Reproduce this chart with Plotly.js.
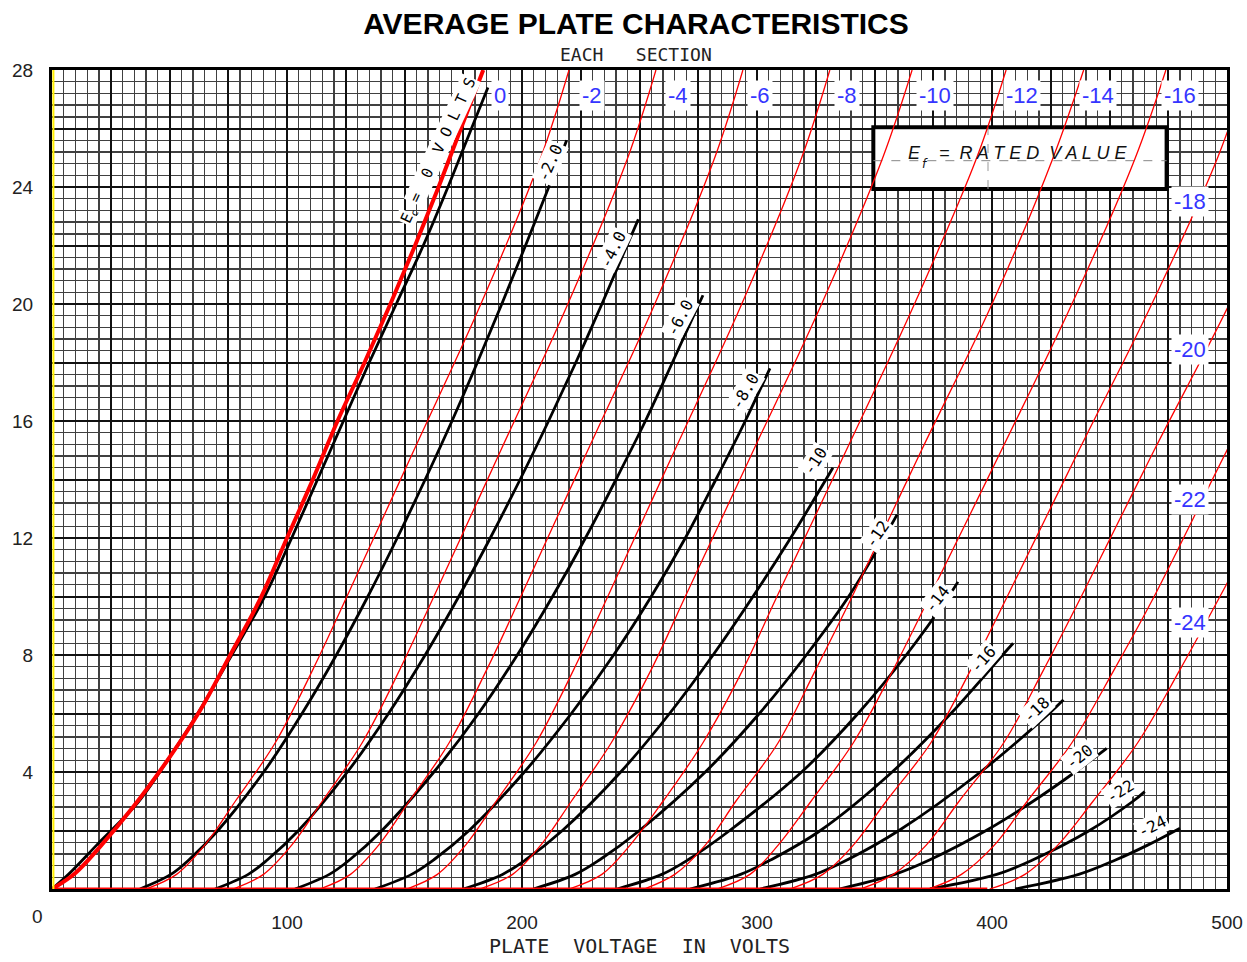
<!DOCTYPE html>
<html>
<head>
<meta charset="utf-8">
<script src="https://cdn.plot.ly/plotly-3.0.1.min.js"></script>
<style>
html,body{margin:0;padding:0;background:#fff;}
#chart{width:1247px;height:962px;}
</style>
</head>
<body>
<div id="chart"></div>
<script>
// ---------- tick labels ----------
const xTickVals = [100, 200, 300, 400, 500];
const xTickText = ['100', '200', '300', '400', '500'];
const yTickVals = [4, 8, 12, 16, 20, 24, 28];
const yTickText = ['4', '8', '12', '16', '20', '24', '28'];

// ---------- black (published) curves: plate volts / plate mA ----------
const blackV_0   = [0, 7, 19, 37, 50, 62, 76.5, 90.5, 102, 113, 124, 135, 146.5, 158, 168.5, 178.5, 185.5];
const blackI_0   = [0, 0.5, 1.5, 3, 4.5, 6, 8, 10, 12, 14, 16, 18, 20, 22, 24, 26, 27.4];
const blackV_m2  = [37.4, 50.6, 58.3, 70.6, 90.1, 106.4, 121, 134.4, 146.9, 158.8, 170.2, 181, 191.4, 201.5, 211.4, 219];
const blackI_m2  = [0, 0.5, 1, 2, 4, 6, 8, 10, 12, 14, 16, 18, 20, 22, 24, 25.6];
const blackV_m4  = [69.4, 83.5, 91.7, 104.9, 125.7, 143.2, 158.8, 173.1, 186.5, 199.2, 211.3, 222.9, 234, 249.5];
const blackI_m4  = [0, 0.5, 1, 2, 4, 6, 8, 10, 12, 14, 16, 18, 20, 22.9];
const blackV_m6  = [103.4, 118, 126.7, 140.4, 162.5, 181.5, 198, 213, 227, 240, 252.5, 264, 277];
const blackI_m6  = [0, 0.5, 1, 2, 4, 6, 8, 10, 12, 14, 16, 18, 20.3];
const blackV_m8  = [137.4, 153, 162.5, 177.5, 201, 221, 239, 255, 269.5, 282.5, 295, 305.5];
const blackI_m8  = [0, 0.5, 1, 2, 4, 6, 8, 10, 12, 14, 16, 17.8];
const blackV_m10 = [175, 191.7, 201.6, 217.2, 242, 262.8, 281.3, 298.3, 314.3, 332.3];
const blackI_m10 = [0, 0.5, 1, 2, 4, 6, 8, 10, 12, 14.4];
const blackV_m12 = [204.8, 222.6, 233.1, 250, 278, 301, 321, 339, 354, 359.6];
const blackI_m12 = [0, 0.5, 1, 2, 4, 6, 8, 10, 12, 12.8];
const blackV_m14 = [240.4, 259.5, 270.7, 288.4, 319, 343, 363.5, 381.5, 385.5];
const blackI_m14 = [0, 0.5, 1, 2, 4, 6, 8, 10, 10.5];
const blackV_m16 = [271.5, 293, 306, 327, 357.5, 382.5, 404.5, 409];
const blackI_m16 = [0, 0.5, 1, 2, 4, 6, 8, 8.4];
const blackV_m18 = [301.3, 324.8, 338.5, 360.4, 395.1, 424.3, 430.4];
const blackI_m18 = [0, 0.5, 1, 2, 4, 6, 6.47];
const blackV_m20 = [335, 358.6, 373.6, 397.5, 417.5, 435.4, 448.8];
const blackI_m20 = [0, 0.5, 1, 2, 3, 4, 4.81];
const blackV_m22 = [373.6, 402, 417.5, 441.5, 460, 465];
const blackI_m22 = [0, 0.5, 1, 2, 3, 3.33];
const blackV_m24 = [409.8, 436.9, 452.8, 466.2, 480];
const blackI_m24 = [0, 0.5, 1, 1.5, 2.08];
const blackLabels = ['-2.0','-4.0','-6.0','-8.0','-10','-12','-14','-16','-18','-20','-22','-24'];

// ---------- red (model) curves ----------
const redV_0   = [0, 10, 20.5, 34.5, 50, 63, 75.5, 88.5, 100, 111, 121.5, 133, 144, 154.5, 164.5, 174, 183.5];
const redI_0   = [0, 0.55, 1.45, 2.8, 4.5, 6.1, 7.95, 9.9, 12, 14, 16, 18, 20, 22, 24, 26, 28];
const redI     = [0, 0.5, 1.5, 3, 5, 7.5, 10, 15, 20, 25, 28];
const redV_m2  = [40, 53, 65, 78, 95, 111, 125.5, 154, 182.5, 208, 220];
const redV_m4  = [77, 90, 102, 115, 132, 148, 162.5, 191, 219.5, 245, 257];
const redV_m6  = [114, 127, 139, 152, 169, 185, 199.5, 228, 256.5, 282, 294];
const redV_m8  = [151, 164, 176, 189, 206, 222, 236.5, 265, 293.5, 319, 331];
const redV_m10 = [182, 196, 208, 221, 238, 255, 269.5, 298.5, 327.5, 353.5, 366];
const redV_m12 = [220, 234, 246, 260, 277, 294, 308.5, 338, 367, 393.5, 406];
const redV_m14 = [252, 265, 278, 291, 309, 325, 340.5, 370, 400, 426, 439];
const redV_m16 = [283, 297, 309, 323, 341, 358, 373.5, 404, 434, 461, 474];
const redV_m18 = [314, 328, 341, 355, 374, 391, 406.5, 437, 468, 496, 509];
const redV_m20 = [344, 358, 372, 386, 405, 422, 438, 469, 501, 529, 542];
const redV_m22 = [373, 387, 401, 415, 434, 452, 469, 500, 532, 561, 574];
const redV_m24 = [399, 414, 428, 443, 462, 480, 497, 530, 562, 592, 606];
const redBaseV = [0, 398];
const redBaseI = [0, 0];
const redLabels = ['0','-2','-4','-6','-8','-10','-12','-14','-16','-18','-20','-22','-24'];

// ---------- build traces ----------
const blackSets = [
  [blackV_0, blackI_0], [blackV_m2, blackI_m2], [blackV_m4, blackI_m4], [blackV_m6, blackI_m6],
  [blackV_m8, blackI_m8], [blackV_m10, blackI_m10], [blackV_m12, blackI_m12], [blackV_m14, blackI_m14],
  [blackV_m16, blackI_m16], [blackV_m18, blackI_m18], [blackV_m20, blackI_m20], [blackV_m22, blackI_m22],
  [blackV_m24, blackI_m24]
];
const redSets = [
  [redV_m2, redI], [redV_m4, redI], [redV_m6, redI], [redV_m8, redI], [redV_m10, redI],
  [redV_m12, redI], [redV_m14, redI], [redV_m16, redI], [redV_m18, redI], [redV_m20, redI],
  [redV_m22, redI], [redV_m24, redI]
];

const traces = [];
// baseline on the overlay axes (same ranges) so the heavy grid is drawn
traces.push({x:redBaseV, y:redBaseI, xaxis:'x2', yaxis:'y2', type:'scatter', mode:'lines',
  line:{color:'#ff0000', width:3}, hoverinfo:'skip'});
blackSets.forEach(function(s){
  traces.push({x:s[0], y:s[1], type:'scatter', mode:'lines',
    line:{color:'#000', width:2.8, shape:'spline', smoothing:1}, hoverinfo:'skip'});
});
redSets.forEach(function(s){
  traces.push({x:s[0], y:s[1], type:'scatter', mode:'lines',
    line:{color:'#ff0000', width:1.3, shape:'spline', smoothing:1}, hoverinfo:'skip'});
});
traces.push({x:redV_0, y:redI_0, type:'scatter', mode:'lines',
  line:{color:'#ff0000', width:4, shape:'spline', smoothing:1}, hoverinfo:'skip'});

// ---------- label placement (layout only) ----------
const blackLabelPos = [
  [211.9,24.85,-66],[238.7,21.88,-64],[267.2,19.55,-62],[294.9,17.01,-60],[324.7,14.62,-57],
  [351.1,12.12,-55],[376.6,9.89,-52],[396.2,7.84,-49],[419.1,6.13,-44],[437.4,4.52,-38],
  [454.5,3.32,-32],[468.1,2.12,-26]
];
const redLabelPos = [
  [190.6,27.12],[229.8,27.12],[266.4,27.12],[301.3,27.12],[338.3,27.12],[375.7,27.12],
  [412.8,27.12],[445.1,27.12],[480,27.12],[484.3,23.52],[484.3,18.45],[484.3,13.32],[484.3,9.11]
];

const annotations = [];
blackLabels.forEach(function(t, k){
  const p = blackLabelPos[k];
  annotations.push({x:p[0], y:p[1], xref:'x', yref:'y', text:t, textangle:p[2], showarrow:false,
    bgcolor:'#fff', borderpad:1,
    font:{family:'DejaVu Sans Mono', size:16, color:'#000'}});
});
redLabels.forEach(function(t, k){
  const p = redLabelPos[k];
  annotations.push({x:p[0], y:p[1], xref:'x', yref:'y', text:t, showarrow:false,
    bgcolor:'#fff', borderpad:2,
    font:{family:'Liberation Sans', size:22, color:'#3535ff'}});
});
// "Ec = 0 VOLTS" along the zero-bias curve
annotations.push({x:150.9, y:22.95, xref:'x', yref:'y', textangle:-65, showarrow:false,
  text:'E', bgcolor:'#fff', borderpad:1,
  font:{family:'DejaVu Sans Mono', size:15, color:'#000'}});
annotations.push({x:154.0, y:23.11, xref:'x', yref:'y', textangle:-65, showarrow:false,
  text:'c', font:{family:'DejaVu Sans Mono', size:10, color:'#000'}});
annotations.push({x:166.3, y:25.60, xref:'x', yref:'y', textangle:-65, showarrow:false,
  text:'=\u00a0\u00a00\u00a0\u00a0V O L T S', bgcolor:'#fff', borderpad:1,
  font:{family:'DejaVu Sans Mono', size:15, color:'#000'}});
// "Ef = RATED VALUE" in the box
annotations.push({x:367.0, y:25.17, xref:'x', yref:'y', showarrow:false,
  text:'<i>E</i>', font:{family:'Liberation Sans', size:18, color:'#111'}});
annotations.push({x:371.6, y:24.78, xref:'x', yref:'y', showarrow:false,
  text:'<i>f</i>', font:{family:'DejaVu Sans', size:12, color:'#111'}});
annotations.push({x:376.5, y:25.17, xref:'x', yref:'y', xanchor:'left', showarrow:false,
  text:'<i>=\u00a0\u00a0R A T E D\u00a0\u00a0V A L U E</i>',
  font:{family:'Liberation Sans', size:18, color:'#111'}});
annotations.push({x:0.497, y:1.0195, xref:'paper', yref:'paper', showarrow:false,
  text:'EACH\u00a0\u00a0\u00a0SECTION', yanchor:'middle',
  font:{family:'DejaVu Sans Mono', size:18, color:'#222'}});
annotations.push({x:-0.0187, y:-0.033, xref:'paper', yref:'paper', showarrow:false,
  text:'0', yanchor:'middle', font:{family:'Liberation Sans', size:19, color:'#222'}});

const shapes = [
  {type:'rect', xref:'x', yref:'y', x0:349.5, x1:474.3, y0:23.93, y1:26.04,
   line:{color:'#000', width:4}, fillcolor:'#fff', layer:'between'},
  {type:'line', xref:'x', yref:'y', x0:349.5, x1:474.3, y0:24.9, y1:24.9,
   line:{color:'#888', width:1, dash:'dash'}, layer:'between'},
  {type:'line', xref:'x', yref:'y', x0:398.3, x1:398.3, y0:23.93, y1:26.04,
   line:{color:'#999', width:1, dash:'dash'}, layer:'between'},
  {type:'line', xref:'paper', yref:'paper', x0:0.0012, x1:0.0012, y0:0, y1:1,
   line:{color:'#ffee00', width:2}, layer:'above'}
];

const minorX = {tickmode:'linear', tick0:0, dtick:5, showgrid:true, gridcolor:'#404040', gridwidth:1.4, ticks:''};
const minorY = {tickmode:'linear', tick0:0, dtick:0.4, showgrid:true, gridcolor:'#404040', gridwidth:1.4, ticks:''};

const layout = {
  width:1247, height:962,
  margin:{l:52, r:20, t:70, b:73},
  paper_bgcolor:'#fff', plot_bgcolor:'#fff',
  showlegend:false,
  title:{text:'<b>AVERAGE PLATE CHARACTERISTICS</b>', x:0.51, xanchor:'center',
    y:1-23/962, yanchor:'middle', font:{family:'Liberation Sans', size:30, color:'#000'}},
  xaxis:{range:[0,500], tickmode:'array', tickvals:xTickVals, ticktext:xTickText,
    title:{text:'PLATE\u00a0\u00a0VOLTAGE\u00a0\u00a0IN\u00a0\u00a0VOLTS', standoff:8,
      font:{family:'DejaVu Sans Mono', size:20, color:'#222'}},
    showgrid:true, gridcolor:'#111', gridwidth:2, zeroline:false,
    showline:true, mirror:true, linecolor:'#000', linewidth:3, ticks:'',
    ticklabelstandoff:14, layer:'below traces',
    tickfont:{family:'Liberation Sans', size:19, color:'#222'},
    minor:minorX},
  yaxis:{range:[0,28], tickmode:'array', tickvals:yTickVals, ticktext:yTickText,
    showgrid:true, gridcolor:'#111', gridwidth:2, zeroline:false,
    showline:true, mirror:true, linecolor:'#000', linewidth:3, ticks:'',
    ticklabelstandoff:12, layer:'below traces',
    tickfont:{family:'Liberation Sans', size:19, color:'#222'},
    minor:minorY},
  xaxis2:{overlaying:'x', range:[0,500], tickmode:'linear', tick0:0, dtick:25,
    showticklabels:false, ticks:'', showgrid:true, gridcolor:'#111', gridwidth:2,
    zeroline:false, showline:false, layer:'below traces'},
  yaxis2:{overlaying:'y', range:[0,28], tickmode:'linear', tick0:0, dtick:2,
    showticklabels:false, ticks:'', showgrid:true, gridcolor:'#111', gridwidth:2,
    zeroline:false, showline:false, layer:'below traces'},
  annotations:annotations,
  shapes:shapes
};

Plotly.newPlot('chart', traces, layout, {staticPlot:true, displayModeBar:false});
</script>
</body>
</html>
